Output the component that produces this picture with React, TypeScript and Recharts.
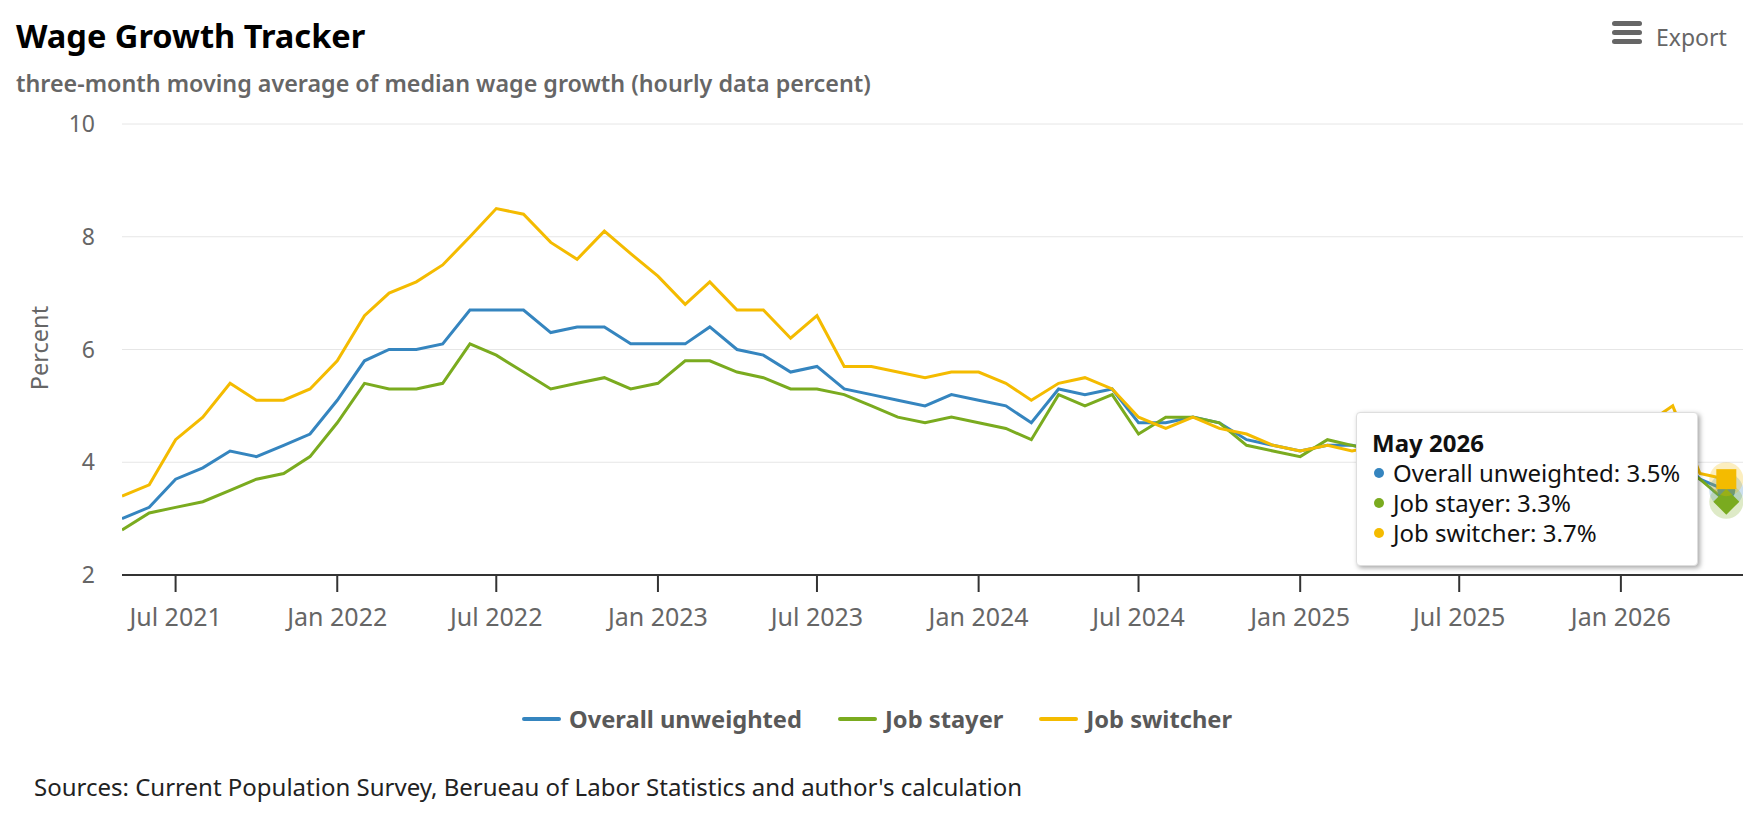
import React from "react";
import { LineChart, Line, XAxis, YAxis, CartesianGrid, Tooltip } from "recharts";

const FONT = '"Noto Sans", "Open Sans", sans-serif';

// Monthly readings, May 2021 .. May 2026 (three-month moving average, %)
const FIRST_MONTH = { year: 2021, month: 4 }; // May 2021 (0-based month)

const overallUnweighted = [
  3.0, 3.2, 3.7, 3.9, 4.2, 4.1, 4.3, 4.5, 5.1, 5.8, 6.0, 6.0, 6.1, 6.7, 6.7, 6.7,
  6.3, 6.4, 6.4, 6.1, 6.1, 6.1, 6.4, 6.0, 5.9, 5.6, 5.7, 5.3, 5.2, 5.1, 5.0, 5.2,
  5.1, 5.0, 4.7, 5.3, 5.2, 5.3, 4.7, 4.7, 4.8, 4.7, 4.4, 4.3, 4.2, 4.3, 4.3, 4.2,
  4.2, 4.1, 4.1, 4.0, 4.1, 4.0, 3.9, 4.0, 3.9, 4.1, 4.2, 3.7, 3.5,
];

const jobStayer = [
  2.8, 3.1, 3.2, 3.3, 3.5, 3.7, 3.8, 4.1, 4.7, 5.4, 5.3, 5.3, 5.4, 6.1, 5.9, 5.6,
  5.3, 5.4, 5.5, 5.3, 5.4, 5.8, 5.8, 5.6, 5.5, 5.3, 5.3, 5.2, 5.0, 4.8, 4.7, 4.8,
  4.7, 4.6, 4.4, 5.2, 5.0, 5.2, 4.5, 4.8, 4.8, 4.7, 4.3, 4.2, 4.1, 4.4, 4.3, 4.2,
  4.2, 4.1, 4.0, 4.0, 4.0, 3.9, 3.9, 3.9, 3.8, 3.9, 4.0, 3.7, 3.3,
];

const jobSwitcher = [
  3.4, 3.6, 4.4, 4.8, 5.4, 5.1, 5.1, 5.3, 5.8, 6.6, 7.0, 7.2, 7.5, 8.0, 8.5, 8.4,
  7.9, 7.6, 8.1, 7.7, 7.3, 6.8, 7.2, 6.7, 6.7, 6.2, 6.6, 5.7, 5.7, 5.6, 5.5, 5.6,
  5.6, 5.4, 5.1, 5.4, 5.5, 5.3, 4.8, 4.6, 4.8, 4.6, 4.5, 4.3, 4.2, 4.3, 4.2, 4.3,
  4.4, 4.2, 4.2, 4.1, 4.3, 4.2, 4.0, 4.1, 4.3, 4.7, 5.0, 3.8, 3.7,
];

const X_TICK_LABELS = [
  "Jul 2021", "Jan 2022", "Jul 2022", "Jan 2023", "Jul 2023",
  "Jan 2024", "Jul 2024", "Jan 2025", "Jul 2025", "Jan 2026",
];
const Y_TICKS = [2, 4, 6, 8, 10];

const MONTH_NAMES = ["Jan", "Feb", "Mar", "Apr", "May", "Jun", "Jul", "Aug", "Sep", "Oct", "Nov", "Dec"];

type SeriesDef = {
  key: "overall" | "stayer" | "switcher";
  name: string;
  color: string;
  values: number[];
  marker: "circle" | "diamond" | "square";
};

const SERIES: SeriesDef[] = [
  { key: "overall", name: "Overall unweighted", color: "#3585BF", values: overallUnweighted, marker: "circle" },
  { key: "stayer", name: "Job stayer", color: "#7AAB1F", values: jobStayer, marker: "diamond" },
  { key: "switcher", name: "Job switcher", color: "#F4BB00", values: jobSwitcher, marker: "square" },
];

const parseTick = (label: string) => {
  const [mon, yr] = label.split(" ");
  return Date.UTC(Number(yr), MONTH_NAMES.indexOf(mon), 1);
};

const tickStamps = X_TICK_LABELS.map(parseTick);
const tickLabelByStamp = new Map(tickStamps.map((t, i) => [t, X_TICK_LABELS[i]]));

const data = overallUnweighted.map((_, i) => {
  const m = FIRST_MONTH.month + i;
  const year = FIRST_MONTH.year + Math.floor(m / 12);
  const month = m % 12;
  return {
    t: Date.UTC(year, month, 1),
    label: `${MONTH_NAMES[month]} ${year}`,
    overall: overallUnweighted[i],
    stayer: jobStayer[i],
    switcher: jobSwitcher[i],
  };
});

// a little room after the last month, like a datetime axis with padding
const X_DOMAIN: [number, number] = [data[0].t, Date.UTC(2026, 4, 20)];

function hoverMarker(kind: SeriesDef["marker"], color: string) {
  return (props: any) => {
    const { cx, cy } = props;
    if (cx == null || cy == null) return <g />;
    let shape;
    if (kind === "square") {
      shape = <rect x={cx - 10} y={cy - 10} width={20} height={20} fill={color} />;
    } else if (kind === "diamond") {
      shape = <path d={`M${cx} ${cy - 13} L${cx + 13} ${cy} L${cx} ${cy + 13} L${cx - 13} ${cy} Z`} fill={color} />;
    } else {
      shape = <circle cx={cx} cy={cy} r={9} fill={color} />;
    }
    return (
      <g>
        <circle cx={cx} cy={cy} r={17} fill={color} fillOpacity={0.25} />
        {shape}
      </g>
    );
  };
}

function TooltipBox({ active, payload }: any) {
  if (!active || !payload || !payload.length) return null;
  const row = payload[0].payload;
  return (
    <div
      style={{
        boxSizing: "border-box",
        width: 342,
        padding: "15px 15px 17px",
        background: "#fff",
        border: "1px solid #dedede",
        borderRadius: 4,
        boxShadow: "2px 2px 5px rgba(0,0,0,0.35)",
        fontFamily: FONT,
        color: "#111",
        fontSize: 24,
        lineHeight: "30px",
        whiteSpace: "nowrap",
      }}
    >
      <div style={{ fontWeight: 700, fontSize: 24 }}>{row.label}</div>
      {SERIES.map((s) => (
        <div key={s.key} style={{ display: "flex", alignItems: "center" }}>
          <span
            style={{
              display: "inline-block",
              width: 10,
              height: 10,
              borderRadius: 5,
              background: s.color,
              marginLeft: 2,
              marginRight: 9,
            }}
          />
          {`${s.name}: ${row[s.key].toFixed(1)}%`}
        </div>
      ))}
    </div>
  );
}

export default function App() {
  return (
    <div
      style={{
        position: "absolute",
        left: 0,
        top: 0,
        width: 1754,
        height: 813,
        background: "#fff",
        fontFamily: FONT,
        overflow: "hidden",
      }}
    >
      <div
        style={{
          position: "absolute",
          left: 16,
          top: 20,
          fontSize: 32.6,
          lineHeight: 1,
          fontWeight: 700,
          color: "#000",
          whiteSpace: "nowrap",
        }}
      >
        Wage Growth Tracker
      </div>
      <div
        style={{
          position: "absolute",
          left: 16,
          top: 72,
          fontSize: 23.3,
          lineHeight: 1,
          fontWeight: 600,
          color: "#666",
          whiteSpace: "nowrap",
        }}
      >
        three-month moving average of median wage growth (hourly data percent)
      </div>

      {/* export menu button */}
      <div style={{ position: "absolute", left: 1612, top: 21 }}>
        {[0, 9, 18].map((dy) => (
          <div
            key={dy}
            style={{
              position: "absolute",
              left: 0,
              top: dy,
              width: 30,
              height: 5,
              borderRadius: 3,
              background: "#666",
            }}
          />
        ))}
      </div>
      <div
        style={{
          position: "absolute",
          left: 1656,
          top: 26,
          fontSize: 23,
          lineHeight: 1,
          color: "#666",
        }}
      >
        Export
      </div>

      <div
        style={{
          position: "absolute",
          left: 39.5,
          top: 348,
          transform: "translate(-50%, -50%) rotate(-90deg)",
          fontSize: 23.5,
          lineHeight: 1,
          color: "#666",
          whiteSpace: "nowrap",
        }}
      >
        Percent
      </div>

      <div style={{ position: "absolute", left: 0, top: 0 }}>
        <LineChart
          width={1754}
          height={813}
          data={data}
          margin={{ top: 124, right: 11, bottom: 178, left: 0 }}
        >
          <CartesianGrid vertical={false} stroke="#e6e6e6" strokeWidth={1} />
          <XAxis
            dataKey="t"
            type="number"
            scale="linear"
            domain={X_DOMAIN}
            ticks={tickStamps}
            tickFormatter={(v: number) => tickLabelByStamp.get(v) ?? ""}
            height={60}
            axisLine={{ stroke: "#333", strokeWidth: 2 }}
            tickLine={{ stroke: "#333", strokeWidth: 2 }}
            tickSize={17}
            tickMargin={16}
            tick={{ fill: "#666", fontSize: 25, fontFamily: FONT }}
            interval={0}
            allowDataOverflow
          />
          <YAxis
            type="number"
            domain={[2, 10]}
            ticks={Y_TICKS}
            width={122}
            axisLine={false}
            tickLine={false}
            tickSize={0}
            tickMargin={27}
            tick={{ fill: "#666", fontSize: 23, fontFamily: FONT }}
          />
          <Tooltip
            active
            defaultIndex={data.length - 1}
            position={{ x: 1356, y: 412 }}
            cursor={false}
            isAnimationActive={false}
            content={<TooltipBox />}
            wrapperStyle={{ zIndex: 5, outline: "none" }}
          />
          {SERIES.map((s) => (
            <Line
              key={s.key}
              type="linear"
              dataKey={s.key}
              name={s.name}
              stroke={s.color}
              strokeWidth={3}
              dot={false}
              activeDot={hoverMarker(s.marker, s.color)}
              isAnimationActive={false}
            />
          ))}
        </LineChart>
      </div>

      {/* legend */}
      <div
        style={{
          position: "absolute",
          left: 0,
          top: 703,
          width: 1754,
          height: 32,
          display: "flex",
          justifyContent: "center",
          alignItems: "center",
          gap: 36,
        }}
      >
        {SERIES.map((s) => (
          <div key={s.key} style={{ display: "flex", alignItems: "center" }}>
            <div style={{ width: 39, height: 4, borderRadius: 2, background: s.color, marginRight: 8 }} />
            <span style={{ fontSize: 23.7, fontWeight: 700, color: "#595959", whiteSpace: "nowrap" }}>{s.name}</span>
          </div>
        ))}
      </div>

      <div
        style={{
          position: "absolute",
          left: 34,
          top: 775,
          fontSize: 24,
          lineHeight: 1,
          color: "#222",
          whiteSpace: "nowrap",
        }}
      >
        Sources: Current Population Survey, Berueau of Labor Statistics and author's calculation
      </div>
    </div>
  );
}
